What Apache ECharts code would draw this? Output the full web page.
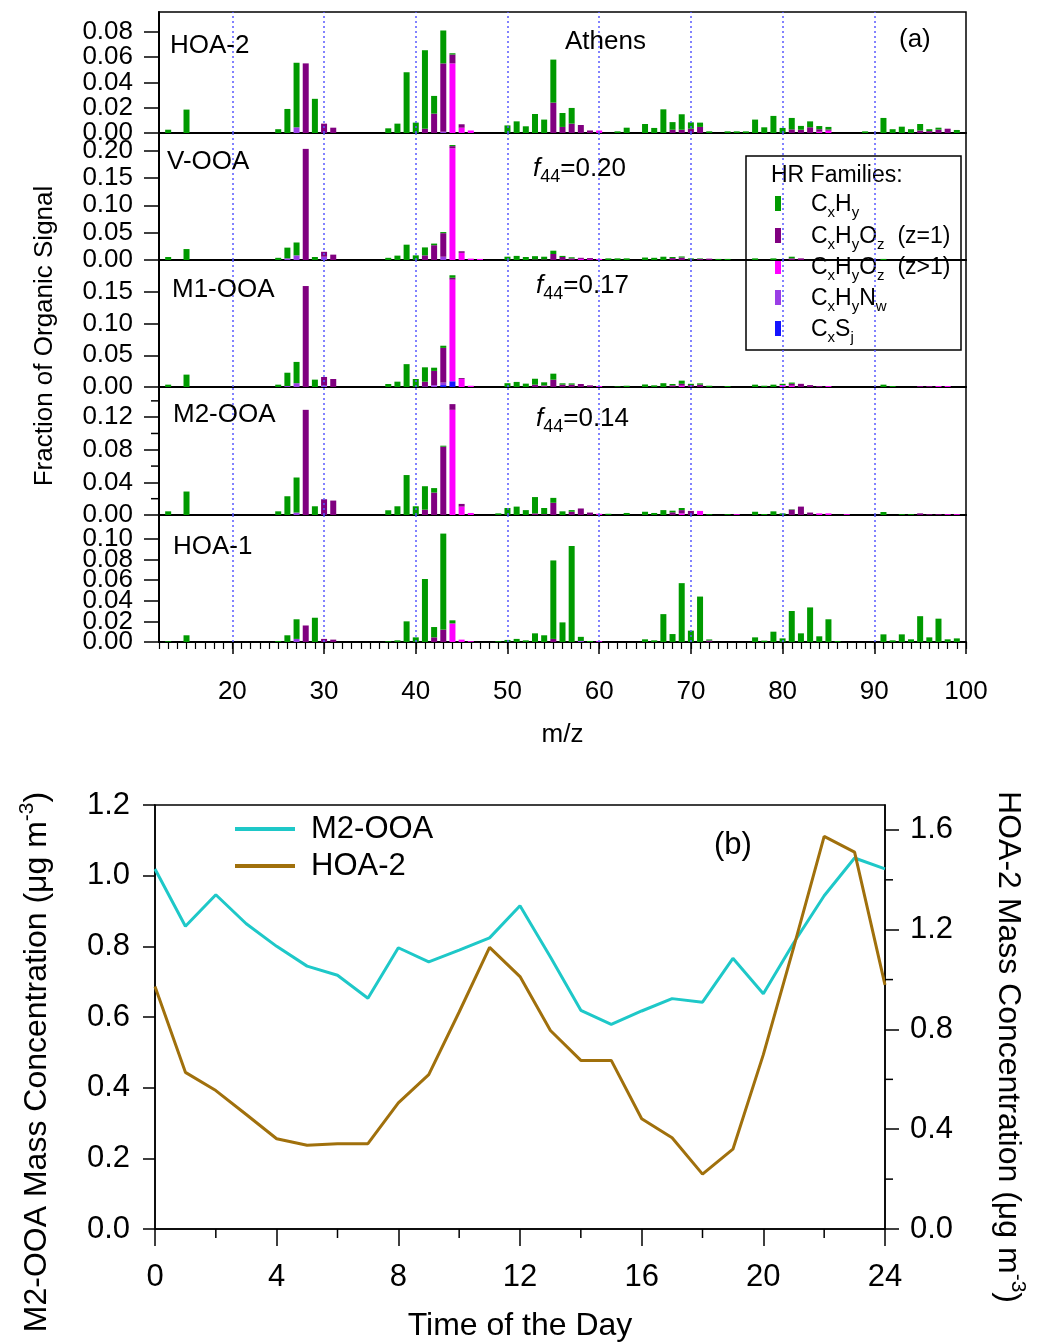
<!DOCTYPE html>
<html><head><meta charset="utf-8">
<script src="https://cdn.jsdelivr.net/npm/echarts@6/dist/echarts.min.js"></script>
<style>html,body{margin:0;padding:0;background:#fff}#c{width:1037px;height:1343px}</style>
</head><body><div id="c"></div>
<script>
// ---------- DATA: panel (a) unit mass spectra, sparse [m/z, fraction] ----------
const MZ_MIN = 12, MZ_MAX = 100;
const panelNames = ['HOA-2', 'V-OOA', 'M1-OOA', 'M2-OOA', 'HOA-1'];
const f44Labels = ['', '0.20', '0.17', '0.14', ''];
const familyNames = ['CxSj', 'CxHyNw', 'CxHyOz (z>1)', 'CxHyOz (z=1)', 'CxHy'];
const familyColors = ['#1414ff', '#9a3ee6', '#ff00ff', '#800080', '#009a00'];
const dottedMz = ['20', '30', '40', '50', '60', '70', '80', '90'];

const HOA2_H = [[13,0.0026],[15,0.0185],[25,0.003],[26,0.019],[27,0.051],[29,0.027],[37,0.0037],[38,0.0074],[39,0.048],[40,0.0082],[41,0.062],[42,0.014],[43,0.026],[44,0.001],[50,0.006],[51,0.0092],[52,0.0053],[53,0.015],[54,0.0106],[55,0.034],[56,0.011],[57,0.0124],[62,0.0013],[63,0.0042],[65,0.0071],[66,0.004],[67,0.0187],[68,0.006],[69,0.0122],[70,0.005],[71,0.0034],[72,0.0013],[74,0.0013],[75,0.0013],[76,0.0013],[77,0.0106],[78,0.0045],[79,0.0135],[80,0.004],[81,0.009],[82,0.003],[83,0.0047],[84,0.0025],[85,0.002],[89,0.0013],[91,0.0119],[92,0.003],[93,0.005],[94,0.003],[95,0.0051],[96,0.0015],[97,0.0015],[99,0.0024]];
const HOA2_O1 = [[28,0.055],[30,0.0074],[31,0.0042],[41,0.0034],[42,0.0153],[43,0.054],[44,0.007],[45,0.0027],[55,0.024],[56,0.0048],[57,0.0074],[58,0.0063],[59,0.002],[68,0.0026],[69,0.0026],[70,0.0034],[71,0.0048],[81,0.0029],[82,0.0026],[83,0.0045],[84,0.002],[85,0.001],[95,0.002],[96,0.0015],[97,0.0027],[98,0.0034]];
const HOA2_O2 = [[44,0.055],[45,0.0042],[46,0.002],[60,0.002],[84,0.001],[85,0.0018]];
const HOA2_N = [[27,0.0045],[43,0.001]];
const HOA2_S = [];

const VOOA_H = [[13,0.0055],[15,0.020],[25,0.004],[26,0.0196],[27,0.0235],[29,0.0055],[37,0.004],[38,0.008],[39,0.028],[40,0.0085],[41,0.0145],[42,0.003],[43,0.002],[44,0.002],[50,0.006],[51,0.0075],[52,0.0055],[53,0.006],[54,0.005],[55,0.006],[56,0.002],[57,0.002],[61,0.003],[62,0.003],[63,0.003],[65,0.0045],[66,0.004],[67,0.006],[68,0.002],[69,0.002],[70,0.002],[71,0.001],[73,0.002],[74,0.002],[77,0.003],[79,0.003],[81,0.003],[91,0.002]];
const VOOA_O1 = [[28,0.203],[30,0.009],[31,0.0098],[41,0.0085],[42,0.027],[43,0.043],[44,0.004],[45,0.003],[53,0.001],[54,0.001],[55,0.011],[56,0.0055],[57,0.003],[58,0.002],[59,0.002],[68,0.0035],[69,0.0035],[70,0.001],[71,0.002],[72,0.0025],[81,0.003],[82,0.003]];
const VOOA_O2 = [[44,0.204],[45,0.013],[46,0.0025],[47,0.002],[58,0.002],[59,0.0015],[60,0.002],[69,0.001]];
const VOOA_N = [[26,0.003],[27,0.0085],[30,0.006],[43,0.006]];
const VOOA_S = [];

const M1_H = [[13,0.0037],[15,0.0195],[25,0.0037],[26,0.021],[27,0.0335],[29,0.0116],[37,0.0047],[38,0.0084],[39,0.036],[40,0.0126],[41,0.0226],[42,0.005],[43,0.0034],[44,0.004],[50,0.006],[51,0.008],[52,0.0053],[53,0.0093],[54,0.005],[55,0.0094],[56,0.0021],[57,0.002],[62,0.001],[63,0.002],[65,0.004],[66,0.0026],[67,0.006],[68,0.002],[69,0.005],[70,0.002],[71,0.002],[72,0.002],[74,0.0015],[77,0.0037],[78,0.002],[79,0.0037],[80,0.002],[81,0.002],[91,0.0037],[92,0.0015]];
const M1_O1 = [[28,0.159],[30,0.0138],[31,0.0126],[41,0.0074],[42,0.0224],[43,0.0546],[44,0.003],[45,0.0014],[53,0.0037],[54,0.0024],[55,0.0116],[56,0.0037],[57,0.0037],[58,0.0047],[59,0.0026],[68,0.0027],[69,0.003],[70,0.003],[71,0.0037],[81,0.003],[82,0.005],[83,0.003],[84,0.0015],[95,0.0015],[96,0.0015]];
const M1_O2 = [[44,0.16],[45,0.0126],[46,0.002],[60,0.0015],[69,0.002],[80,0.003],[81,0.002],[85,0.0015],[97,0.0015],[98,0.0015]];
const M1_N = [[26,0.0015],[27,0.006],[30,0.002],[41,0.001],[42,0.003],[43,0.004]];
const M1_S = [[43,0.003],[44,0.009]];

const M2_H = [[13,0.0045],[15,0.0288],[25,0.0045],[26,0.023],[27,0.043],[29,0.0107],[37,0.0058],[38,0.0107],[39,0.049],[40,0.0107],[41,0.0287],[42,0.0055],[43,0.0012],[49,0.002],[50,0.0086],[51,0.0103],[52,0.006],[53,0.020],[54,0.0076],[55,0.006],[56,0.0045],[57,0.002],[61,0.0015],[63,0.0025],[65,0.004],[66,0.0025],[67,0.006],[68,0.002],[69,0.0026],[72,0.001],[74,0.001],[77,0.004],[78,0.0012],[79,0.0045],[80,0.002],[81,0.0004],[91,0.0037],[93,0.001],[94,0.001]];
const M2_O1 = [[28,0.129],[30,0.0193],[31,0.0177],[41,0.0066],[42,0.0275],[43,0.0838],[44,0.007],[45,0.0033],[53,0.002],[54,0.001],[55,0.015],[57,0.004],[58,0.008],[59,0.003],[68,0.0033],[69,0.004],[70,0.005],[81,0.0066],[82,0.0103],[83,0.003],[95,0.002],[96,0.001],[97,0.001]];
const M2_O2 = [[44,0.129],[45,0.0103],[46,0.0025],[60,0.0015],[69,0.002],[71,0.005],[75,0.001],[84,0.002],[85,0.002],[87,0.001],[98,0.001],[99,0.001]];
const M2_N = [[27,0.003]];
const M2_S = [];

const HOA1_H = [[13,0.0008],[15,0.0065],[25,0.001],[26,0.0065],[27,0.019],[29,0.0235],[37,0.0008],[38,0.0016],[39,0.020],[40,0.0045],[41,0.061],[42,0.010],[43,0.093],[44,0.003],[49,0.0008],[50,0.002],[51,0.003],[52,0.0016],[53,0.0084],[54,0.0065],[55,0.076],[56,0.019],[57,0.093],[58,0.004],[59,0.001],[65,0.0026],[66,0.0016],[67,0.027],[68,0.0077],[69,0.057],[70,0.011],[71,0.044],[72,0.001],[77,0.0045],[78,0.0013],[79,0.010],[80,0.0035],[81,0.030],[82,0.0084],[83,0.0335],[84,0.0055],[85,0.022],[86,0.001],[91,0.0074],[92,0.0016],[93,0.0074],[94,0.0026],[95,0.025],[96,0.0045],[97,0.0226],[98,0.0026],[99,0.0035]];
const HOA1_O1 = [[28,0.016],[30,0.003],[31,0.0023],[42,0.0045],[43,0.012],[55,0.003],[72,0.0015]];
const HOA1_O2 = [[44,0.018],[45,0.0023],[46,0.0008],[60,0.0008]];
const HOA1_N = [[27,0.003],[58,0.001]];
const HOA1_S = [];

// y tick values per panel
const yTicksHOA2 = [0, 0.02, 0.04, 0.06, 0.08];
const yTicksVOOA = [0, 0.05, 0.10, 0.15, 0.20];
const yTicksM1 = [0, 0.05, 0.10, 0.15];
const yTicksM2 = [0, 0.04, 0.08, 0.12];
const yMinorM2 = [0.02, 0.06, 0.10, 0.14];
const yTicksHOA1 = [0, 0.02, 0.04, 0.06, 0.08, 0.10];

// ---------- DATA: panel (b) diurnal cycles ----------
const hours = [0,1,2,3,4,5,6,7,8,9,10,11,12,13,14,15,16,17,18,19,20,21,22,23,24];
const M2OOA_diurnal = [1.019,0.857,0.946,0.864,0.800,0.744,0.718,0.653,0.796,0.756,0.789,0.824,0.915,0.770,0.619,0.579,0.617,0.652,0.642,0.766,0.666,0.810,0.943,1.050,1.019];
const HOA2_diurnal = [0.972,0.628,0.555,0.459,0.362,0.336,0.342,0.342,0.506,0.619,0.870,1.129,1.012,0.796,0.676,0.676,0.442,0.366,0.220,0.320,0.699,1.130,1.574,1.511,0.979];
const hourLabels = [0,4,8,12,16,20,24];
const hourMinor = [2,6,10,14,18,22];
const leftTicks = [0,0.2,0.4,0.6,0.8,1.0,1.2];
const rightTicks = [0,0.4,0.8,1.2,1.6];
const rightMinor = [0.2,0.6,1.0,1.4];

// ---------- BUILD ----------
const FONT = '"Liberation Sans", Arial, sans-serif';
const mzCats = [];
for (let z = MZ_MIN; z <= MZ_MAX; z++) mzCats.push(String(z));
const panelFamilies = [
  [HOA2_S, HOA2_N, HOA2_O2, HOA2_O1, HOA2_H],
  [VOOA_S, VOOA_N, VOOA_O2, VOOA_O1, VOOA_H],
  [M1_S, M1_N, M1_O2, M1_O1, M1_H],
  [M2_S, M2_N, M2_O2, M2_O1, M2_H],
  [HOA1_S, HOA1_N, HOA1_O2, HOA1_O1, HOA1_H]
];
const panelTicks = [yTicksHOA2, yTicksVOOA, yTicksM1, yTicksM2, yTicksHOA1];
const panelMax = [0.0956, 0.232, 0.2, 0.157, 0.123];
const panelTop = [12, 133, 260, 387, 515];
const panelH = [121, 127, 127, 128, 127];

function fullArray(sparse) {
  const m = new Map(sparse);
  return mzCats.map(c => m.has(Number(c)) ? m.get(Number(c)) : 0);
}
const isDecade = (idx, val) => Number(val) % 10 === 0;

const grid = [], xAxis = [], yAxis = [], series = [];
for (let p = 0; p < 5; p++) {
  grid.push({left: 159, right: 71, top: panelTop[p], height: panelH[p], show: true, borderColor: '#000', borderWidth: 1.5});
  const xa = {gridIndex: p, type: 'category', data: mzCats, boundaryGap: false,
    axisLine: {show: true, onZero: false, lineStyle: {color: '#000', width: 2}},
    axisTick: {show: false}, axisLabel: {show: false}, splitLine: {show: false}};
  if (p === 4) {
    xa.axisTick = {show: true, interval: isDecade, length: 12, lineStyle: {color: '#000', width: 1.5}};
    xa.axisLabel = {show: true, interval: isDecade, fontSize: 26, color: '#000', margin: 37, fontFamily: FONT,
      hideOverlap: false};
    xa.name = 'm/z'; xa.nameLocation = 'middle'; xa.nameGap = 80;
    xa.nameTextStyle = {fontSize: 26, color: '#000', fontFamily: FONT};
  }
  xAxis.push(xa);
  yAxis.push({gridIndex: p, type: 'value', min: 0, max: panelMax[p],
    axisLine: {show: true, lineStyle: {color: '#000', width: 2}},
    axisTick: {show: true, customValues: panelTicks[p], length: 15, lineStyle: {color: '#000', width: 1.5}},
    axisLabel: {show: false},
    splitLine: {show: false}});
  panelFamilies[p].forEach((fam, k) => {
    const s = {type: 'bar', name: familyNames[k], xAxisIndex: p, yAxisIndex: p, stack: 'panel' + p,
      barWidth: 6, data: fullArray(fam), itemStyle: {color: familyColors[k]}, silent: true};
    if (k === 4) {
      s.markLine = {silent: true, symbol: 'none', label: {show: false},
        lineStyle: {color: '#5a5aff', type: [2, 3], width: 1.5},
        data: dottedMz.map(v => ({xAxis: v}))};
    }
    series.push(s);
  });
}
// minor m/z ticks on bottom panel (xAxis index 5)
xAxis.push({gridIndex: 4, type: 'category', data: mzCats, boundaryGap: false, position: 'bottom',
  axisLine: {show: false}, axisTick: {show: true, interval: 0, length: 7, lineStyle: {color: '#000', width: 1.2}},
  axisLabel: {show: false}, splitLine: {show: false}});

// ---- panel (b) ----
grid.push({left: 155, right: 152, top: 805, bottom: 112, show: true, borderColor: '#000', borderWidth: 1.5});
xAxis.push({gridIndex: 5, type: 'value', min: 0, max: 24, position: 'bottom',
  axisLine: {show: true, onZero: false, lineStyle: {color: '#000', width: 1.5}},
  axisTick: {show: true, customValues: hourLabels, length: 17, lineStyle: {color: '#000', width: 1.5}},
  axisLabel: {show: true, customValues: hourLabels, fontSize: 31, color: '#000', margin: 33, fontFamily: FONT,
    showMinLabel: true, showMaxLabel: true},
  splitLine: {show: false},
  name: 'Time of the Day', nameLocation: 'middle', nameGap: 81,
  nameTextStyle: {fontSize: 32, color: '#000', fontFamily: FONT}});
yAxis.push({gridIndex: 5, type: 'value', min: 0, max: 1.2, position: 'left',
  axisLine: {show: true, onZero: false, lineStyle: {color: '#000', width: 1.5}},
  axisTick: {show: true, customValues: leftTicks, length: 12, lineStyle: {color: '#000', width: 1.5}},
  axisLabel: {show: true, customValues: leftTicks, fontSize: 31, color: '#000', margin: 25, fontFamily: FONT,
    showMinLabel: true, showMaxLabel: true, formatter: v => v.toFixed(1)},
  splitLine: {show: false}});
yAxis.push({gridIndex: 5, type: 'value', min: 0, max: 1.7, position: 'right',
  axisLine: {show: true, onZero: false, lineStyle: {color: '#000', width: 1.5}},
  axisTick: {show: true, customValues: rightTicks, length: 14, lineStyle: {color: '#000', width: 1.5}},
  axisLabel: {show: true, customValues: rightTicks, fontSize: 31, color: '#000', margin: 25, fontFamily: FONT,
    showMinLabel: true, showMaxLabel: true, formatter: v => v.toFixed(1)},
  splitLine: {show: false}});

series.push({type: 'line', name: 'M2-OOA', xAxisIndex: 6, yAxisIndex: 5, showSymbol: false, symbol: 'none',
  data: hours.map((h, i) => [h, M2OOA_diurnal[i]]), lineStyle: {color: '#1ec8c8', width: 3}, itemStyle: {color: '#1ec8c8'}});
series.push({type: 'line', name: 'HOA-2', xAxisIndex: 6, yAxisIndex: 6, showSymbol: false, symbol: 'none',
  data: hours.map((h, i) => [h, HOA2_diurnal[i]]), lineStyle: {color: '#a0700c', width: 3}, itemStyle: {color: '#a0700c'}});

// ---------- GRAPHIC TEXTS ----------
const T = (x, y, text, size, extra) => Object.assign({type: 'text', x: x, y: y, z: 100,
  style: {text: text, fontSize: size, fontFamily: FONT, fill: '#000', align: 'left', verticalAlign: 'middle'}}, extra || {});
const panelLabelPos = [[170, 46], [167, 162], [172, 290], [173, 415], [173, 547]];
const graphic = [];
panelNames.forEach((n, i) => graphic.push(T(panelLabelPos[i][0], panelLabelPos[i][1], n, 26)));
graphic.push(T(565, 42, 'Athens', 26));
graphic.push(T(899, 40, '(a)', 26));
const f44Pos = [null, [533, 169], [536, 286], [536, 419]];
f44Labels.forEach((v, i) => {
  if (!v) return;
  graphic.push({type: 'text', x: f44Pos[i][0], y: f44Pos[i][1], z: 100,
    style: {text: '{f|f}{s|44}{m|=' + v + '}', verticalAlign: 'middle', align: 'left', fill: '#000',
      rich: {f: {fontSize: 26, fontStyle: 'italic', fontFamily: FONT, lineHeight: 34},
             s: {fontSize: 18, fontFamily: FONT, verticalAlign: 'bottom', lineHeight: 16},
             m: {fontSize: 26, fontFamily: FONT, lineHeight: 34}}}});
});
graphic.push({type: 'text', x: 45, y: 336, rotation: Math.PI / 2, z: 100,
  style: {text: 'Fraction of Organic Signal', fontSize: 26, fontFamily: FONT, fill: '#000', align: 'center', verticalAlign: 'middle'}});

// legend (a)
const legRich = {m: {fontSize: 23, fontFamily: FONT, lineHeight: 30}, s: {fontSize: 15, fontFamily: FONT, verticalAlign: 'bottom', lineHeight: 14}};
const legTexts = ['{m|C}{s|x}{m|H}{s|y}', '{m|C}{s|x}{m|H}{s|y}{m|O}{s|z}{m|  (z=1)}', '{m|C}{s|x}{m|H}{s|y}{m|O}{s|z}{m|  (z>1)}', '{m|C}{s|x}{m|H}{s|y}{m|N}{s|w}', '{m|C}{s|x}{m|S}{s|j}'];
const legColors = ['#009a00', '#800080', '#ff00ff', '#9a3ee6', '#1414ff'];
const legY = [203, 235, 266, 297, 328];
const legChildren = [
  {type: 'rect', shape: {x: 746, y: 156, width: 215, height: 194}, style: {fill: '#fff', stroke: '#000', lineWidth: 1.5}},
  {type: 'text', x: 771, y: 176, style: {text: 'HR Families:', fontSize: 23, fontFamily: FONT, fill: '#000', verticalAlign: 'middle'}}
];
legTexts.forEach((t, i) => {
  legChildren.push({type: 'rect', shape: {x: 775, y: legY[i] - 7, width: 6, height: 15}, style: {fill: legColors[i]}});
  legChildren.push({type: 'text', x: 811, y: legY[i] + 2, style: {text: t, rich: legRich, fill: '#000', verticalAlign: 'middle'}});
});
graphic.push({type: 'group', z: 200, children: legChildren});

// panel (b) texts and legend
graphic.push(T(714, 845, '(b)', 31));
graphic.push({type: 'line', z: 100, shape: {x1: 235, y1: 829, x2: 295, y2: 829}, style: {stroke: '#1ec8c8', lineWidth: 4}});
graphic.push({type: 'line', z: 100, shape: {x1: 235, y1: 866, x2: 295, y2: 866}, style: {stroke: '#a0700c', lineWidth: 4}});
graphic.push(T(311, 829, 'M2-OOA', 31));
graphic.push(T(311, 866, 'HOA-2', 31));
const supRich = {a: {fontSize: 32, fontFamily: FONT, lineHeight: 40}, p: {fontSize: 21, fontFamily: FONT, verticalAlign: 'top', lineHeight: 18}};
graphic.push({type: 'text', x: 37, y: 1062, rotation: Math.PI / 2, z: 100,
  style: {text: '{a|M2-OOA Mass Concentration (μg m}{p|-3}{a|)}', rich: supRich, fill: '#000', align: 'center', verticalAlign: 'middle'}});
graphic.push({type: 'text', x: 1008, y: 1047, rotation: -Math.PI / 2, z: 100,
  style: {text: '{a|HOA-2 Mass Concentration (μg m}{p|-3}{a|)}', rich: supRich, fill: '#000', align: 'center', verticalAlign: 'middle'}});

const chart = echarts.init(document.getElementById('c'), null, {renderer: 'canvas'});
chart.setOption({
  backgroundColor: '#fff', animation: false,
  textStyle: {fontFamily: FONT},
  grid: grid, xAxis: xAxis, yAxis: yAxis, series: series, graphic: graphic
});

// tick labels of the stacked panels and minor ticks, placed through the axes' own scales
const extra = [];
const tickStyle = {stroke: '#000', lineWidth: 1.5};
const leftEdge = chart.convertToPixel({xAxisIndex: 0}, mzCats[0]);
panelTicks.forEach((ticks, p) => {
  ticks.forEach(v => {
    const y = chart.convertToPixel({yAxisIndex: p}, v);
    extra.push({type: 'text', x: leftEdge - 26, y: y, z: 60,
      style: {text: v.toFixed(2), fontSize: 26, fontFamily: FONT, fill: '#000', align: 'right', verticalAlign: 'middle'}});
  });
});
yMinorM2.forEach(v => {
  const y = chart.convertToPixel({yAxisIndex: 3}, v);
  extra.push({type: 'line', z: 50, shape: {x1: leftEdge - 8, y1: y, x2: leftEdge, y2: y}, style: tickStyle});
});
const bRight = chart.convertToPixel({xAxisIndex: 6}, 24);
rightMinor.forEach(v => {
  const y = chart.convertToPixel({yAxisIndex: 6}, v);
  extra.push({type: 'line', z: 50, shape: {x1: bRight, y1: y, x2: bRight + 8, y2: y}, style: tickStyle});
});
const bBottom = chart.convertToPixel({yAxisIndex: 5}, 0);
hourMinor.forEach(h => {
  const x = chart.convertToPixel({xAxisIndex: 6}, h);
  extra.push({type: 'line', z: 50, shape: {x1: x, y1: bBottom, x2: x, y2: bBottom + 9}, style: tickStyle});
});
chart.setOption({graphic: graphic.concat(extra)});
</script></body></html>
